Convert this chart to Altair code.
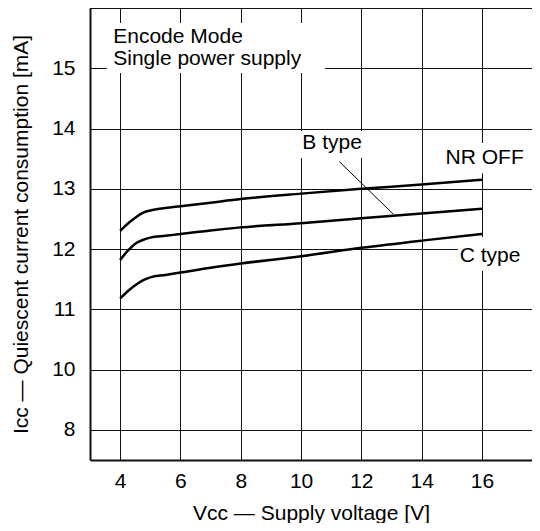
import altair as alt
import pandas as pd

# ---- data ----
vcc = [4, 4.25, 4.5, 4.75, 5, 5.5, 6, 7, 8, 10, 12, 14, 16]
icc_nr_off = [12.30, 12.42, 12.52, 12.60, 12.64, 12.68, 12.71, 12.77, 12.83, 12.92, 13.00, 13.07, 13.15]
icc_b_type = [11.82, 11.97, 12.09, 12.15, 12.19, 12.22, 12.25, 12.31, 12.36, 12.43, 12.51, 12.59, 12.67]
icc_c_type = [11.18, 11.30, 11.40, 11.48, 11.53, 11.57, 11.61, 11.69, 11.76, 11.88, 12.02, 12.14, 12.25]

x_ticks = [4, 6, 8, 10, 12, 14, 16]
y_ticks = [9, 10, 11, 12, 13, 14, 15]  # 9 is drawn as "8" (broken axis)

FONT = "Liberation Sans"
FS = 21

rows = []
for name, ys in [("NR OFF", icc_nr_off), ("B type", icc_b_type), ("C type", icc_c_type)]:
    for xv, yv in zip(vcc, ys):
        rows.append({"series": name, "v": xv, "i": yv})
df = pd.DataFrame(rows)

xscale = alt.Scale(domain=[3, 17.66], nice=False, zero=False)
yscale = alt.Scale(domain=[8.5, 16], nice=False, zero=False)

xaxis = alt.Axis(values=x_ticks, format="d", grid=True, gridColor="#111", gridWidth=1, gridOpacity=1,
                 ticks=False, tickSize=0, domain=True, domainColor="#111", domainWidth=2,
                 labelFont=FONT, labelFontSize=FS, labelColor="black", labelPadding=10,
                 title="Vcc — Supply voltage [V]", titleFont=FONT, titleFontSize=FS,
                 titleFontWeight="normal", titleColor="black", titlePadding=11)
yaxis = alt.Axis(values=y_ticks, format="d", grid=True, gridColor="#111", gridWidth=1, gridOpacity=1,
                 ticks=False, tickSize=0, domain=True, domainColor="#111", domainWidth=2,
                 labelFont=FONT, labelFontSize=FS, labelColor="black", labelPadding=15,
                 labelExpr="datum.value == 9 ? '8' : datum.label",
                 title="Icc — Quiescent current consumption [mA]", titleFont=FONT, titleFontSize=FS,
                 titleFontWeight="normal", titleColor="black", titlePadding=20)

base = alt.Chart(df)

# white boxes behind the labels (grid lines are interrupted there)
boxes = pd.DataFrame({
    "x1": [3.56, 9.90, 14.61, 15.20],
    "x2": [10.79, 12.29, 17.66, 17.66],
    "y1": [15.75, 13.96, 13.76, 12.20],
    "y2": [14.92, 13.51, 13.26, 11.64],
})
box_layer = alt.Chart(boxes).mark_rect(fill="white", stroke=None).encode(
    x=alt.X("x1:Q", scale=xscale, axis=xaxis),
    x2="x2:Q",
    y=alt.Y("y1:Q", scale=yscale, axis=yaxis),
    y2="y2:Q",
)

top_line = alt.Chart(pd.DataFrame({"y": [16]})).mark_rule(color="#111", strokeWidth=2).encode(
    y=alt.Y("y:Q", scale=yscale)
)

curves = base.mark_line(color="black", strokeWidth=2.5, interpolate="monotone").encode(
    x=alt.X("v:Q", scale=xscale),
    y=alt.Y("i:Q", scale=yscale),
    detail="series:N",
)

leader = alt.Chart(pd.DataFrame({"x": [11.27], "x2": [13.06], "y": [13.45], "y2": [12.58]})).mark_rule(
    color="black", strokeWidth=1
).encode(x=alt.X("x:Q", scale=xscale), x2="x2:Q", y=alt.Y("y:Q", scale=yscale), y2="y2:Q")

note_text = ["Encode Mode", "Single power supply"]
note_x = [3.77, 3.77]
note_y = [15.425, 15.06]
notes = alt.Chart(pd.DataFrame({"t": note_text, "x": note_x, "y": note_y})).mark_text(
    align="left", baseline="alphabetic", font=FONT, fontSize=FS, color="black"
).encode(x=alt.X("x:Q", scale=xscale), y=alt.Y("y:Q", scale=yscale), text="t:N")

lab_text = ["B type", "NR OFF", "C type"]
lab_x = [11.03, 16.09, 16.27]
lab_y = [13.66, 13.41, 11.79]
labels = alt.Chart(pd.DataFrame({"t": lab_text, "x": lab_x, "y": lab_y})).mark_text(
    align="center", baseline="alphabetic", font=FONT, fontSize=FS, color="black"
).encode(x=alt.X("x:Q", scale=xscale), y=alt.Y("y:Q", scale=yscale), text="t:N")

chart = alt.layer(box_layer, top_line, curves, leader, notes, labels).properties(
    width=442, height=452,
    autosize=alt.AutoSizeParams(type="none"),
    padding={"left": 82, "top": 0, "right": 0, "bottom": 63},
    background="white",
).configure_view(stroke=None)

chart.save("out.html", embed_options={"renderer": "svg", "actions": False})
